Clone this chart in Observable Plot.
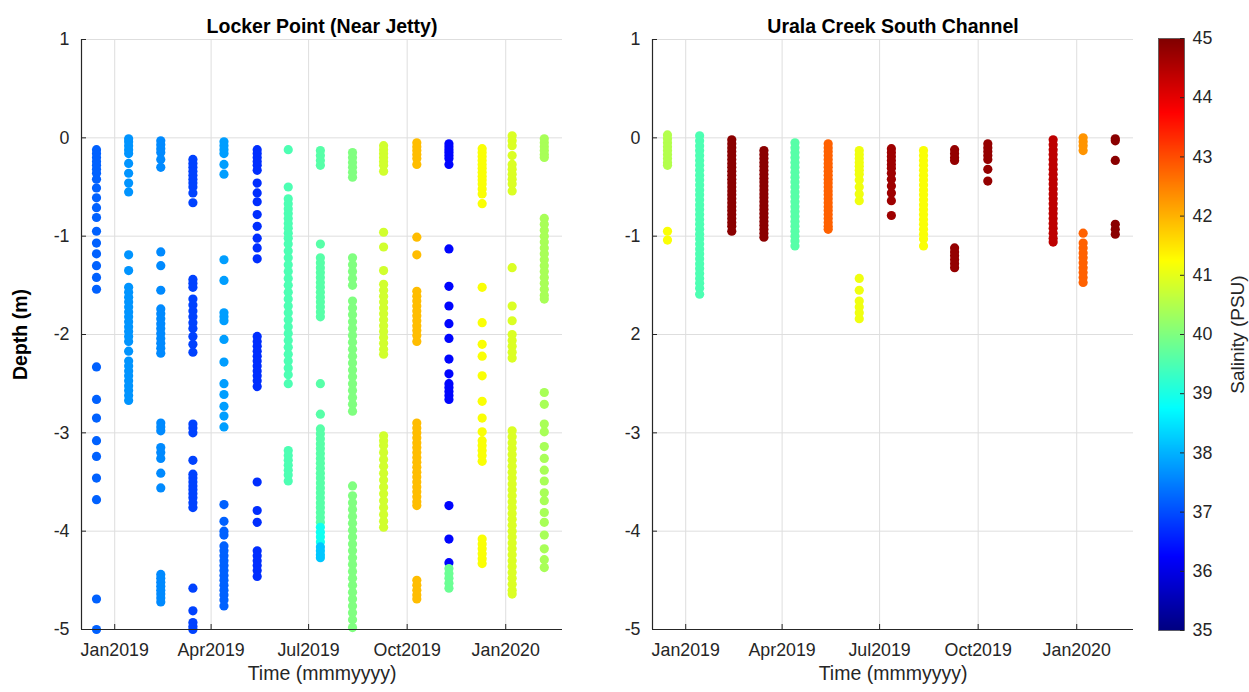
<!DOCTYPE html>
<html><head><meta charset="utf-8">
<script src="https://cdn.jsdelivr.net/npm/d3@7"></script>
<script src="https://cdn.jsdelivr.net/npm/@observablehq/plot@0.6"></script>
<style>
body{margin:0;background:#fff;}
#wrap{position:relative;width:1249px;height:692px;overflow:hidden;}
#wrap svg{position:absolute;top:0;}
</style></head><body><div id="wrap"></div>
<script>
// ---------- axes / ticks ----------
const xTickDates = ["2019-01-01","2019-04-01","2019-07-01","2019-10-01","2020-01-01"];
const xDomain = ["2018-12-01","2020-02-23"];
const yTicks = [1, 0, -1, -2, -3, -4, -5];
const leftYTickLabels = ["1","0","-1","-2","-3","-4","-5"];
const rightYTickLabels = ["1","0","-1","2","-3","-4","-5"];
const salinityTicks = [35,36,37,38,39,40,41,42,43,44,45];
const jetStops = [35, 36.25, 38.75, 41.25, 43.75, 45];
const jetColors = ["#000080","#0000ff","#00ffff","#ffff00","#ff0000","#800000"];

// ---------- Locker Point (Near Jetty) casts ----------
const leftDates = ["2018-12-15","2019-01-14","2019-02-13","2019-03-15","2019-04-13","2019-04-13","2019-05-14","2019-06-12","2019-07-12","2019-07-12","2019-07-12","2019-08-11","2019-09-09","2019-10-10","2019-11-09","2019-11-09","2019-12-10","2020-01-07","2020-02-06"];
const leftSalinity = [37.2, 37.7, 37.6, 36.9, 37.8, 37.2, 36.7, 39.5, 39.6, 38.9, 38.2, 40.0, 40.8, 41.9, 36.3, 39.8, 41.2, 40.9, 40.4];
const leftDepths = [
  [-0.12,-0.16,-0.20,-0.24,-0.28,-0.32,-0.36,-0.42,-0.51,-0.61,-0.71,-0.81,-0.95,-1.07,-1.18,-1.30,-1.42,-1.54,-2.33,-2.66,-2.85,-3.08,-3.24,-3.46,-3.68,-4.69,-5.0],
  [-0.01,-0.04,-0.08,-0.12,-0.16,-0.26,-0.36,-0.46,-0.55,-1.19,-1.35,-1.52,-1.57,-1.62,-1.67,-1.72,-1.77,-1.82,-1.87,-1.92,-1.97,-2.02,-2.07,-2.17,-2.27,-2.32,-2.37,-2.42,-2.47,-2.52,-2.57,-2.62,-2.67],
  [-0.03,-0.07,-0.11,-0.15,-0.22,-0.30,-1.16,-1.30,-1.55,-1.74,-1.79,-1.84,-1.89,-1.94,-1.99,-2.04,-2.09,-2.14,-2.19,-2.90,-2.94,-2.98,-3.15,-3.20,-3.26,-3.41,-3.56,-4.44,-4.48,-4.52,-4.56,-4.60,-4.64,-4.68,-4.72],
  [-0.22,-0.26,-0.30,-0.34,-0.38,-0.42,-0.46,-0.50,-0.56,-0.66,-1.44,-1.48,-1.52,-1.64,-1.70,-1.76,-1.82,-1.88,-1.94,-2.02,-2.10,-2.18,-2.91,-2.95,-3.00,-3.28,-3.42,-3.46,-3.50,-3.54,-3.58,-3.62,-3.66,-3.71,-3.76,-4.58,-4.81,-4.93,-4.97,-5.0],
  [-0.04,-0.08,-0.12,-0.16,-0.27,-0.37,-1.24,-1.45,-1.78,-1.82,-1.86,-2.05,-2.28,-2.50,-2.61,-2.73,-2.83,-2.94],
  [-3.73,-3.90,-4.00,-4.04,-4.15,-4.20,-4.25,-4.30,-4.35,-4.40,-4.45,-4.50,-4.55,-4.60,-4.65,-4.70,-4.76],
  [-0.12,-0.16,-0.20,-0.24,-0.28,-0.33,-0.46,-0.56,-0.65,-0.78,-0.90,-1.02,-1.12,-1.23,-2.02,-2.07,-2.12,-2.17,-2.22,-2.27,-2.32,-2.37,-2.42,-2.47,-2.53,-3.50,-3.79,-3.91,-4.20,-4.25,-4.30,-4.35,-4.40,-4.46],
  [-0.12,-0.50,-0.62,-0.67,-0.72,-0.77,-0.82,-0.87,-0.92,-0.97,-1.02,-1.08,-1.15,-1.22,-1.29,-1.36,-1.43,-1.50,-1.57,-1.64,-1.71,-1.78,-1.85,-1.92,-1.99,-2.06,-2.13,-2.20,-2.27,-2.34,-2.41,-2.50,-3.18,-3.23,-3.28,-3.33,-3.38,-3.43,-3.49],
  [-0.13,-0.18,-0.23,-0.28,-1.08,-1.22,-1.27,-1.32,-1.37,-1.42,-1.47,-1.52,-1.57,-1.62,-1.67,-1.72,-1.77,-1.82,-2.50,-2.81,-2.96,-3.01,-3.06,-3.11,-3.16,-3.21,-3.26,-3.31,-3.36,-3.41,-3.46,-3.51,-3.56,-3.61,-3.66,-3.71,-3.76,-3.81,-3.86,-3.91],
  [-3.96,-4.01,-4.06,-4.11],
  [-4.16,-4.20,-4.24,-4.27],
  [-0.15,-0.20,-0.25,-0.30,-0.35,-0.40,-1.22,-1.29,-1.36,-1.43,-1.50,-1.66,-1.73,-1.80,-1.87,-1.94,-2.01,-2.08,-2.15,-2.22,-2.29,-2.36,-2.43,-2.50,-2.57,-2.64,-2.71,-2.78,-3.54,-3.64,-3.71,-3.78,-3.85,-3.92,-3.99,-4.06,-4.13,-4.20,-4.27,-4.34,-4.41,-4.48,-4.55,-4.62,-4.69,-4.76,-4.83,-4.90,-4.98],
  [-0.08,-0.12,-0.16,-0.20,-0.24,-0.28,-0.34,-0.96,-1.11,-1.35,-1.49,-1.55,-1.61,-1.67,-1.73,-1.79,-1.85,-1.91,-1.97,-2.03,-2.09,-2.15,-2.20,-3.03,-3.08,-3.13,-3.20,-3.27,-3.34,-3.41,-3.48,-3.55,-3.62,-3.69,-3.76,-3.83,-3.90,-3.96],
  [-0.05,-0.09,-0.13,-0.17,-0.21,-0.27,-1.01,-1.19,-1.56,-1.61,-1.66,-1.71,-1.76,-1.81,-1.86,-1.91,-1.96,-2.01,-2.07,-2.90,-2.95,-3.00,-3.05,-3.10,-3.15,-3.20,-3.25,-3.30,-3.35,-3.40,-3.45,-3.50,-3.55,-3.60,-3.65,-3.70,-3.74,-4.50,-4.55,-4.60,-4.65,-4.69],
  [-0.06,-0.09,-0.12,-0.15,-0.18,-0.21,-0.27,-1.13,-1.51,-1.71,-1.89,-2.04,-2.25,-2.40,-2.50,-2.54,-2.58,-2.62,-2.66,-3.74,-4.08,-4.32],
  [-4.38,-4.43,-4.48,-4.53,-4.58],
  [-0.11,-0.15,-0.19,-0.23,-0.27,-0.31,-0.35,-0.39,-0.43,-0.47,-0.52,-0.57,-0.67,-1.52,-1.88,-2.10,-2.22,-2.42,-2.68,-2.85,-2.99,-3.08,-3.13,-3.18,-3.23,-3.29,-4.08,-4.13,-4.18,-4.23,-4.28,-4.33],
  [0.02,-0.03,-0.08,-0.18,-0.27,-0.32,-0.37,-0.42,-0.47,-0.54,-1.32,-1.71,-1.86,-2.00,-2.06,-2.12,-2.18,-2.24,-2.98,-3.04,-3.10,-3.16,-3.22,-3.28,-3.34,-3.40,-3.46,-3.52,-3.58,-3.64,-3.70,-3.76,-3.82,-3.88,-3.94,-4.00,-4.06,-4.12,-4.18,-4.24,-4.30,-4.36,-4.42,-4.48,-4.54,-4.60,-4.64],
  [-0.01,-0.05,-0.09,-0.13,-0.17,-0.20,-0.82,-0.88,-0.94,-1.00,-1.06,-1.12,-1.18,-1.24,-1.30,-1.36,-1.42,-1.48,-1.54,-1.60,-1.64,-2.59,-2.71,-2.91,-2.99,-3.14,-3.26,-3.38,-3.49,-3.61,-3.69,-3.81,-3.91,-4.04,-4.18,-4.29,-4.37]
];

// ---------- Urala Creek South Channel casts ----------
const rightDates = ["2018-12-15","2018-12-15","2019-01-14","2019-02-13","2019-03-15","2019-04-13","2019-05-14","2019-06-12","2019-06-12","2019-07-12","2019-08-11","2019-09-09","2019-09-09","2019-10-10","2019-12-10","2020-01-07","2020-01-07","2020-02-06"];
const rightSalinity = [40.5, 41.2, 39.5, 44.9, 44.9, 39.6, 42.8, 41.1, 41.1, 44.7, 41.2, 44.8, 44.8, 44.8, 44.4, 42.3, 42.8, 44.9];
const rightDepths = [
  [0.03,-0.01,-0.05,-0.09,-0.13,-0.17,-0.21,-0.25,-0.28],
  [-0.95,-1.04],
  [0.02,-0.03,-0.08,-0.13,-0.18,-0.23,-0.28,-0.33,-0.38,-0.43,-0.48,-0.53,-0.58,-0.63,-0.68,-0.73,-0.78,-0.83,-0.88,-0.93,-0.98,-1.03,-1.08,-1.13,-1.18,-1.23,-1.28,-1.33,-1.38,-1.43,-1.48,-1.53,-1.59],
  [-0.02,-0.06,-0.10,-0.14,-0.18,-0.22,-0.26,-0.30,-0.34,-0.38,-0.42,-0.46,-0.50,-0.54,-0.58,-0.62,-0.66,-0.70,-0.74,-0.78,-0.82,-0.86,-0.90,-0.95],
  [-0.13,-0.17,-0.21,-0.25,-0.29,-0.33,-0.37,-0.41,-0.45,-0.49,-0.53,-0.57,-0.61,-0.65,-0.69,-0.73,-0.77,-0.81,-0.85,-0.89,-0.93,-0.97,-1.01],
  [-0.05,-0.10,-0.15,-0.20,-0.25,-0.30,-0.35,-0.40,-0.45,-0.50,-0.55,-0.60,-0.65,-0.70,-0.75,-0.80,-0.85,-0.90,-0.95,-1.00,-1.05,-1.10],
  [-0.06,-0.10,-0.14,-0.18,-0.22,-0.26,-0.30,-0.34,-0.38,-0.42,-0.46,-0.50,-0.54,-0.58,-0.62,-0.66,-0.70,-0.74,-0.78,-0.82,-0.86,-0.90,-0.93],
  [-0.13,-0.17,-0.21,-0.25,-0.29,-0.33,-0.37,-0.43,-0.50,-0.57,-0.64],
  [-1.43,-1.55,-1.66,-1.72,-1.78,-1.84],
  [-0.11,-0.15,-0.19,-0.23,-0.27,-0.31,-0.36,-0.42,-0.49,-0.56,-0.64,-0.79],
  [-0.13,-0.18,-0.23,-0.28,-0.33,-0.38,-0.43,-0.48,-0.53,-0.58,-0.63,-0.68,-0.73,-0.78,-0.83,-0.88,-0.93,-0.98,-1.03,-1.10],
  [-0.12,-0.16,-0.20,-0.23],
  [-1.12,-1.16,-1.20,-1.24,-1.28,-1.32],
  [-0.06,-0.10,-0.14,-0.18,-0.22,-0.32,-0.44],
  [-0.02,-0.07,-0.12,-0.17,-0.22,-0.27,-0.32,-0.37,-0.42,-0.47,-0.52,-0.57,-0.62,-0.67,-0.72,-0.77,-0.82,-0.87,-0.92,-0.97,-1.02,-1.06],
  [0.00,-0.04,-0.08,-0.13],
  [-0.97,-1.07,-1.12,-1.17,-1.22,-1.27,-1.32,-1.37,-1.42,-1.47],
  [-0.01,-0.03,-0.23,-0.88,-0.93,-0.98]
];

const FONT = '"Liberation Sans", Arial, Helvetica, sans-serif';
const INK = "#262626";
const GRID = "#dedede";
const colorOpts = {type: "linear", domain: jetStops, range: jetColors, interpolate: "rgb"};

function toPoints(dates, sal, depths) {
  const pts = [];
  dates.forEach((d, i) => depths[i].forEach(z => pts.push({date: new Date(d), depth: z, salinity: sal[i]})));
  return pts;
}

const W = 600, H = 692, ML = 81, MR = 38, MT = 39, MB = 63;
const FW = W - ML - MR, FH = H - MT - MB;

function panel(title, pts, yLabels, yLabel) {
  const xTicks = xTickDates.map(d => new Date(d));
  const labelOf = new Map(yTicks.map((v, i) => [v, yLabels[i]]));
  const x0 = new Date(xDomain[0]);
  return Plot.plot({
    width: W, height: H,
    marginLeft: ML, marginRight: MR, marginTop: MT, marginBottom: MB,
    style: {fontFamily: FONT, fontSize: "17.8px", color: INK, background: "transparent", overflow: "visible"},
    x: {type: "utc", domain: xDomain.map(d => new Date(d))},
    y: {domain: [-5, 1]},
    color: colorOpts,
    marks: [
      Plot.gridX(xTicks, {stroke: GRID, strokeOpacity: 1}),
      Plot.gridY(yTicks, {stroke: GRID, strokeOpacity: 1}),
      Plot.dot(pts, {x: "date", y: "depth", fill: "salinity", r: 4.6}),
      Plot.ruleX([x0], {stroke: INK, strokeWidth: 1.2}),
      Plot.ruleY([-5], {stroke: INK, strokeWidth: 1.2}),
      Plot.tickY(yTicks, {stroke: INK, insetRight: FW - 5}),
      Plot.tickX(xTicks, {stroke: INK, insetTop: FH - 5}),
      Plot.axisX(xTicks, {tickSize: 0, tickPadding: 14, tickFormat: d3.utcFormat("%b%Y"), label: null, fill: INK}),
      Plot.axisY(yTicks, {tickSize: 0, tickPadding: 12, tickFormat: d => labelOf.get(d), label: null, fill: INK}),
      Plot.text([title], {frameAnchor: "top", dy: -20, fontWeight: "bold", fontSize: 19.5, fill: "#000"}),
      Plot.text(["Time (mmmyyyy)"], {frameAnchor: "bottom", dy: 50, fontSize: 19.5, fill: INK}),
      yLabel ? Plot.text([yLabel], {frameAnchor: "left", dx: -61, rotate: -90, textAnchor: "middle", fontWeight: "bold", fontSize: 19.5, fill: "#000"}) : null
    ]
  });
}

const wrap = document.getElementById("wrap");
const left = panel("Locker Point (Near Jetty)", toPoints(leftDates, leftSalinity, leftDepths), leftYTickLabels, "Depth (m)");
left.style.left = "0px";
wrap.appendChild(left);
const right = panel("Urala Creek South Channel", toPoints(rightDates, rightSalinity, rightDepths), rightYTickLabels, null);
right.style.left = "571px";
wrap.appendChild(right);

// colorbar
const CB_W = 99, CB_ML = 8, CB_MR = 65;
const cbar = Plot.plot({
  width: CB_W, height: H,
  marginLeft: CB_ML, marginRight: CB_MR, marginTop: 38, marginBottom: 62,
  style: {fontFamily: FONT, fontSize: "17.8px", color: INK, background: "transparent", overflow: "visible"},
  x: {domain: [0, 1], axis: null},
  y: {domain: [35, 45], axis: null},
  color: colorOpts,
  marks: [
    Plot.raster({x1: 0, x2: 1, y1: 35, y2: 45, width: 1, height: 600, fill: (x, y) => y, imageRendering: "auto"}),
    Plot.frame({stroke: "#555", strokeWidth: 0.8}),
    Plot.tickY(salinityTicks, {stroke: INK, insetLeft: CB_W - CB_ML - CB_MR - 4}),
    Plot.axisY(salinityTicks, {anchor: "right", tickSize: 0, tickPadding: 8, label: null, fill: INK, tickFormat: d => String(d)}),
    Plot.text(["Salinity (PSU)"], {frameAnchor: "right", dx: 53, rotate: -90, textAnchor: "middle", fontSize: 19, fill: INK})
  ]
});
cbar.style.left = "1150px";
wrap.appendChild(cbar);
</script></body></html>
